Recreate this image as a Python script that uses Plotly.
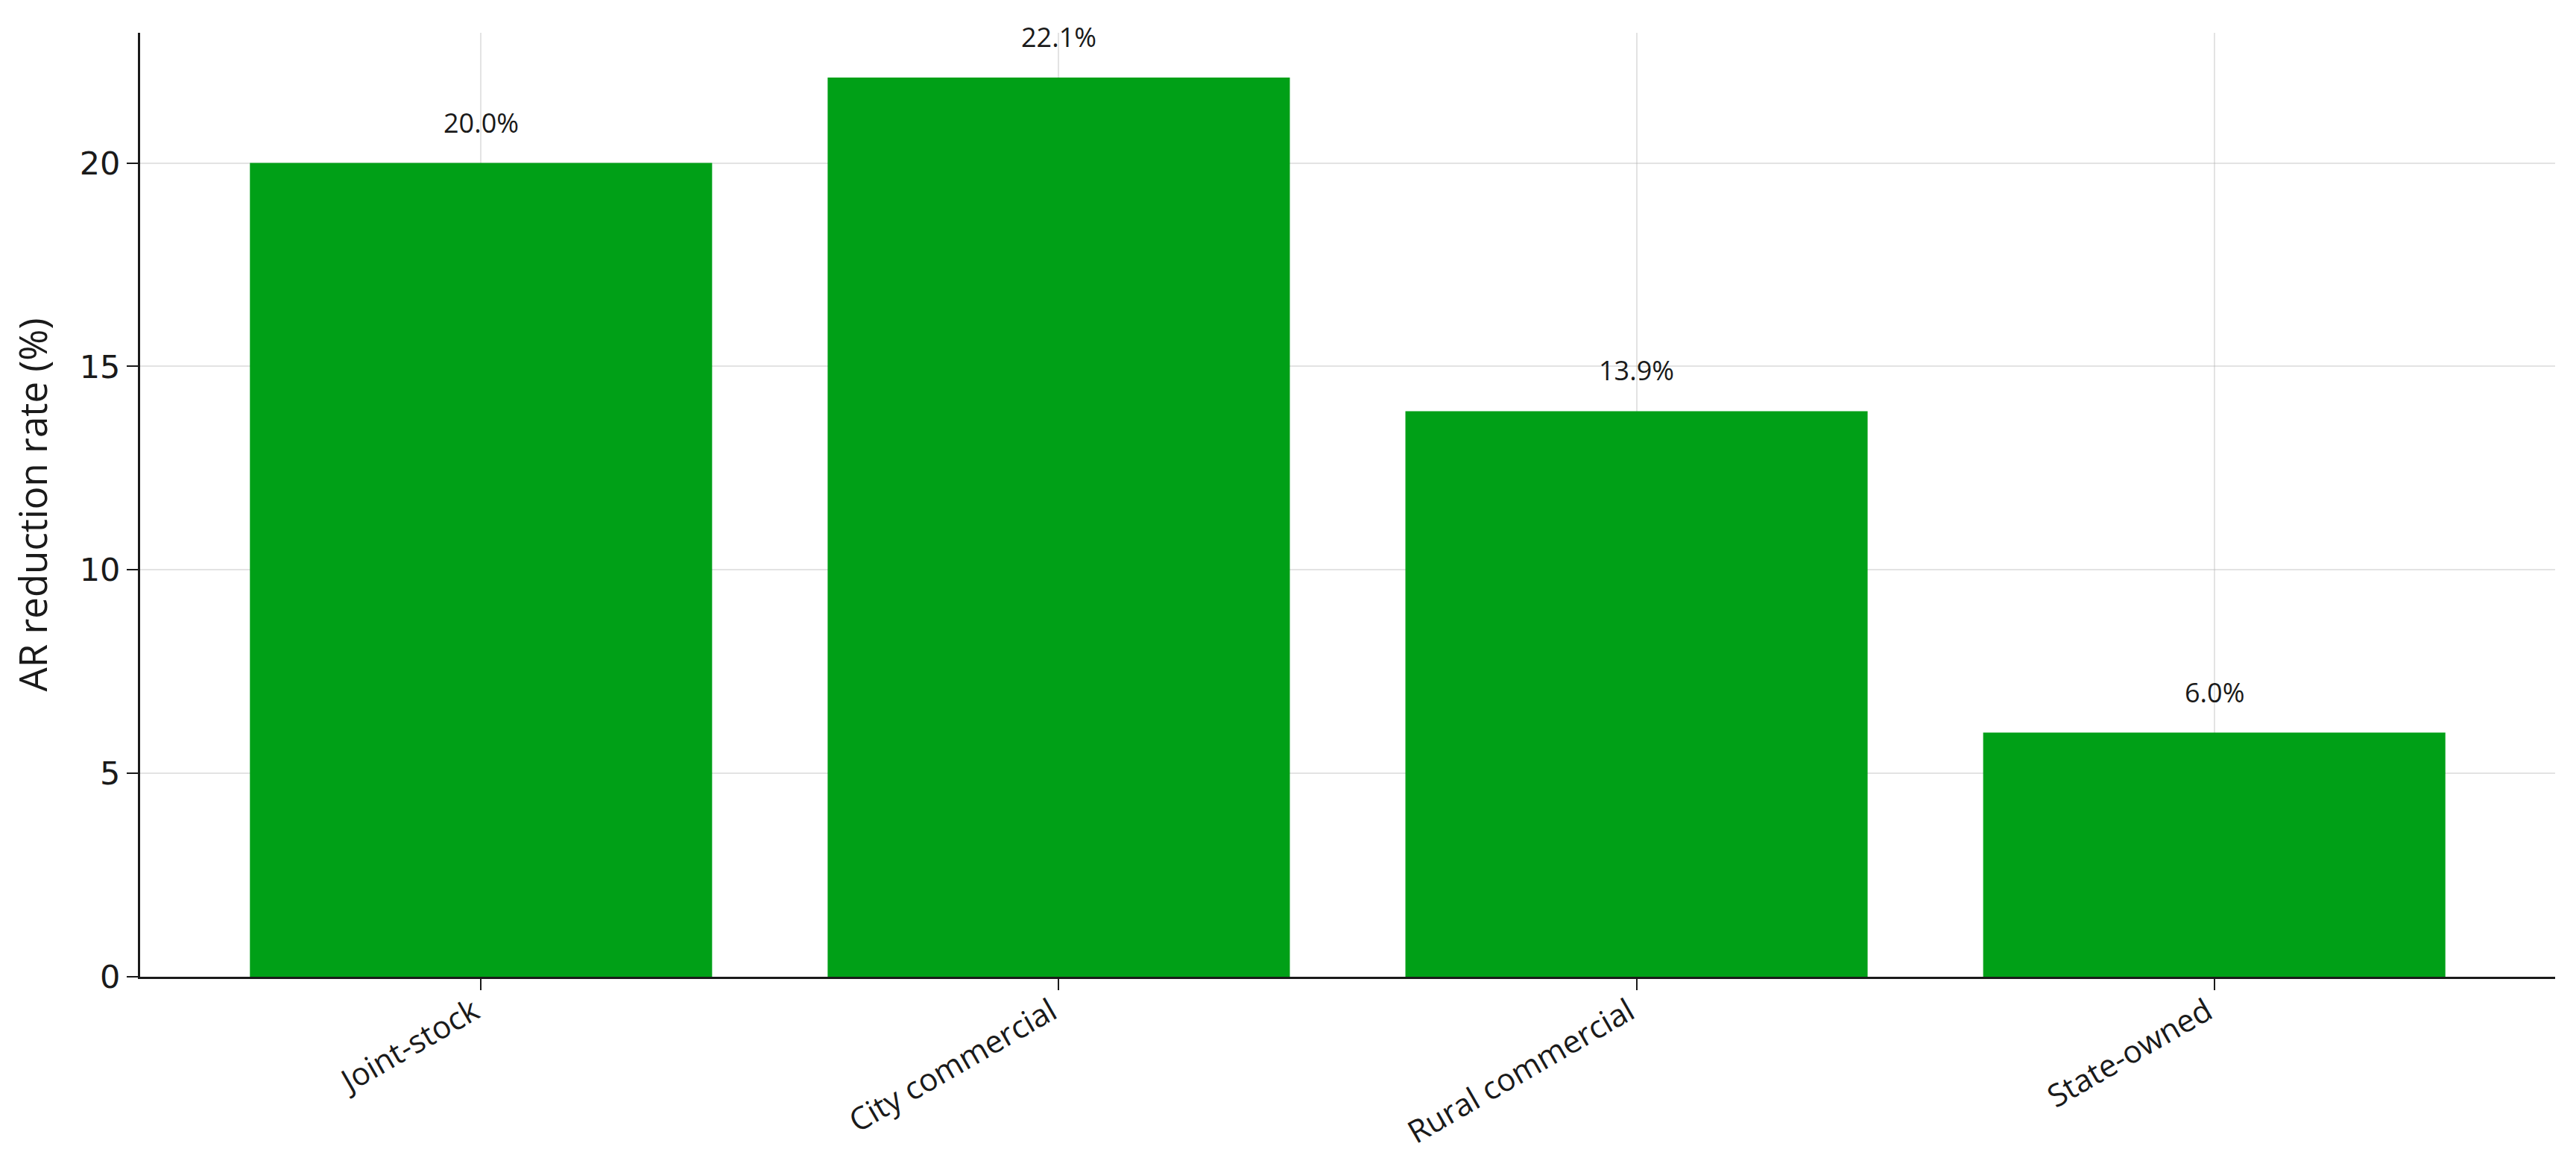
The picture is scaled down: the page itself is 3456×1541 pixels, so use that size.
import plotly.graph_objects as go

# Data
categories = ["Joint-stock", "City commercial", "Rural commercial", "State-owned"]
reduction_rate = [20.0, 22.1, 13.9, 6.0]
bar_labels = ["20.0%", "22.1%", "13.9%", "6.0%"]

BAR_COLOR = "#00a017"
GRID_COLOR = "rgba(176,176,176,0.35)"
FONT = "Open Sans"

fig = go.Figure()
fig.add_trace(go.Bar(
    x=categories,
    y=reduction_rate,
    width=0.8,
    marker=dict(color=BAR_COLOR, line=dict(width=0)),
    showlegend=False,
))

# value labels above each bar
for cat, val, lab in zip(categories, reduction_rate, bar_labels):
    fig.add_annotation(
        x=cat, y=val, text=lab, showarrow=False,
        yanchor="bottom", yshift=28,
        font=dict(family=FONT, size=36, color="#1a1a1a"),
    )

fig.update_layout(
    width=3456, height=1541,
    margin=dict(l=180, r=36, t=36, b=239),
    paper_bgcolor="white", plot_bgcolor="white",
    font=dict(family=FONT, color="#1a1a1a"),
    bargap=0.2,
)

fig.update_xaxes(
    range=[-0.59, 3.59],
    automargin=False,
    showline=True, linecolor="#1a1a1a", linewidth=3,
    ticks="outside", ticklen=15, tickwidth=2, tickcolor="#1a1a1a",
    tickangle=-30, tickfont=dict(family=FONT, size=42),
    ticklabelstandoff=-12, ticklabelshift=-10,
    showgrid=True, gridcolor=GRID_COLOR, gridwidth=2,
    layer="above traces",
)
fig.update_yaxes(
    range=[0, 23.2],
    automargin=False,
    tickvals=[0, 5, 10, 15, 20],
    showline=True, linecolor="#1a1a1a", linewidth=3,
    ticks="outside", ticklen=15, tickwidth=2, tickcolor="#1a1a1a",
    tickfont=dict(family="DejaVu Sans", size=43),
    showgrid=True, gridcolor=GRID_COLOR, gridwidth=2,
    zeroline=False,
    title=dict(text="AR reduction rate (%)", font=dict(family=FONT, size=51), standoff=30),
    layer="above traces",
)

fig.write_html("out.html")
